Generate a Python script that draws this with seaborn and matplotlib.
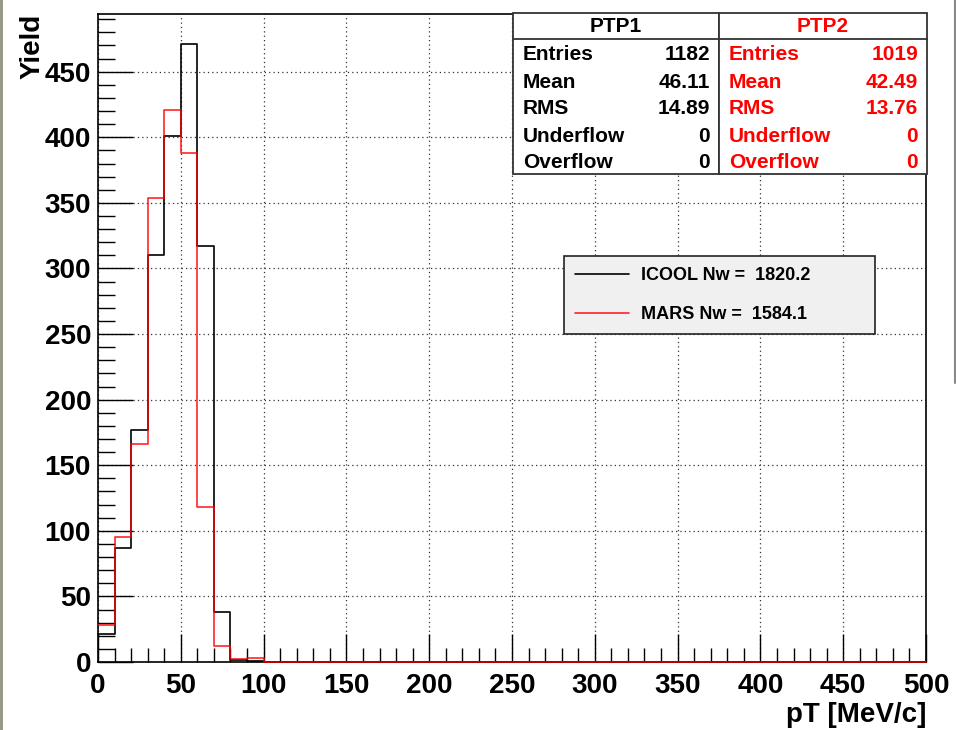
import numpy as np
import pandas as pd
import matplotlib
matplotlib.use("Agg")
import matplotlib.pyplot as plt
from matplotlib.patches import Rectangle
from matplotlib.lines import Line2D
from matplotlib.ticker import MultipleLocator
import seaborn as sns

# ---------------- data ----------------
bin_edges = [0, 10, 20, 30, 40, 50, 60, 70, 80, 90, 100, 110, 120, 130, 140, 150,
             160, 170, 180, 190, 200, 210, 220, 230, 240, 250, 260, 270, 280, 290,
             300, 310, 320, 330, 340, 350, 360, 370, 380, 390, 400, 410, 420, 430,
             440, 450, 460, 470, 480, 490, 500]
icool_yield = [21, 87, 177, 310, 401, 471, 317, 38, 1.5, 1,
               0, 0, 0, 0, 0, 0, 0, 0, 0, 0,
               0, 0, 0, 0, 0, 0, 0, 0, 0, 0,
               0, 0, 0, 0, 0, 0, 0, 0, 0, 0,
               0, 0, 0, 0, 0, 0, 0, 0, 0, 0]
mars_yield = [28, 95, 166, 354, 421, 388, 118, 12, 2, 3,
              0, 0, 0, 0, 0, 0, 0, 0, 0, 0,
              0, 0, 0, 0, 0, 0, 0, 0, 0, 0,
              0, 0, 0, 0, 0, 0, 0, 0, 0, 0,
              0, 0, 0, 0, 0, 0, 0, 0, 0, 0]
series_labels = ["ICOOL Nw =  1820.2", "MARS Nw =  1584.1"]
stat_names = ["Entries", "Mean", "RMS", "Underflow", "Overflow"]
ptp1_stats = ["1182", "46.11", "14.89", "0", "0"]
ptp2_stats = ["1019", "42.49", "13.76", "0", "0"]
box_titles = ["PTP1", "PTP2"]
x_ticks = [0, 50, 100, 150, 200, 250, 300, 350, 400, 450, 500]
y_ticks = [0, 50, 100, 150, 200, 250, 300, 350, 400, 450]

# ---------------- style ----------------
sns.set_theme(style="white")
plt.rcParams["font.family"] = ["Liberation Sans", "DejaVu Sans"]
plt.rcParams["font.weight"] = "bold"
plt.rcParams["text.color"] = "black"
plt.rcParams["axes.labelcolor"] = "black"
plt.rcParams["xtick.color"] = "black"
plt.rcParams["ytick.color"] = "black"

W, H = 956, 730
fig = plt.figure(figsize=(W / 100, H / 100), dpi=100)
fig.patch.set_facecolor("white")


def fx(x):
    return x / W


def fy(y):
    return 1 - y / H


ax = fig.add_axes([fx(98), fy(662), (926 - 98) / W, (662 - 14) / H])

centers = [(a + b) / 2 for a, b in zip(bin_edges[:-1], bin_edges[1:])]
df = pd.DataFrame({"pT": centers, "icool": icool_yield, "mars": mars_yield})

sns.histplot(data=df, x="pT", weights="icool", bins=bin_edges, element="step",
             fill=False, color="black", linewidth=1.2, ax=ax,
             label=series_labels[0], zorder=3, clip_on=False)
sns.histplot(data=df, x="pT", weights="mars", bins=bin_edges, element="step",
             fill=False, color="#ff0000", linewidth=1.2, alpha=0.85, ax=ax,
             label=series_labels[1], zorder=3, clip_on=False)

ax.set_xlim(0, 500)
ax.set_ylim(0, 494)
ax.set_xticks(x_ticks)
ax.set_yticks(y_ticks)
ax.xaxis.set_minor_locator(MultipleLocator(10))
ax.yaxis.set_minor_locator(MultipleLocator(10))
ax.tick_params(axis="both", which="both", direction="in", colors="black",
               labelsize=20, top=False, right=False, bottom=True, left=True)
ax.tick_params(axis="x", which="major", length=20, width=1, pad=8)
ax.tick_params(axis="x", which="minor", length=10, width=1)
ax.tick_params(axis="y", which="major", length=25, width=1, pad=5)
ax.tick_params(axis="y", which="minor", length=12, width=1)
for lab in ax.get_xticklabels() + ax.get_yticklabels():
    lab.set_fontweight("bold")

ax.grid(True, which="major", color="#333333", linestyle=(0, (1, 2.5)),
        linewidth=0.9)
for s in ax.spines.values():
    s.set_color("black")
    s.set_linewidth(1.2)

ax.set_xlabel("pT [MeV/c]", fontsize=20, fontweight="bold", loc="right",
              color="black")
ax.xaxis.set_label_coords(1.0, -0.0618)
ax.set_ylabel("Yield", fontsize=20, fontweight="bold", loc="top",
              color="black")
ax.yaxis.set_label_coords(-0.0636, 1.0)

# ---------------- legend ----------------
leg = ax.legend(loc="upper left",
                bbox_to_anchor=(fx(564), fy(256), (875 - 564) / W, 0),
                bbox_transform=fig.transFigure, mode="expand",
                borderaxespad=0, borderpad=0.6, labelspacing=1.25,
                handlelength=3.0, handletextpad=0.65, fancybox=False,
                frameon=True, prop={"size": 13, "weight": "bold"},
                labelcolor="black")
leg.get_frame().set_facecolor("#f0f0f0")
leg.get_frame().set_edgecolor("#222222")
leg.get_frame().set_linewidth(1.2)
leg.get_frame().set_alpha(1)

# ---------------- statistics boxes ----------------
box_x = [(513, 719), (719, 927)]
box_cols = ["black", "#ff0000"]
box_vals = [ptp1_stats, ptp2_stats]
y_top, y_head, y_bot = 13, 39, 174
for (x0, x1), col, title, vals in zip(box_x, box_cols, box_titles, box_vals):
    fig.add_artist(Rectangle((fx(x0), fy(y_bot)), (x1 - x0) / W,
                             (y_bot - y_top) / H, transform=fig.transFigure,
                             facecolor="white", edgecolor="#333333",
                             linewidth=1.3, zorder=5))
    fig.add_artist(Line2D([fx(x0), fx(x1)], [fy(y_head), fy(y_head)],
                          transform=fig.transFigure, color="#333333",
                          linewidth=1.3, zorder=6))
    fig.text(fx((x0 + x1) / 2), fy(26), title, color=col, fontsize=15,
             fontweight="bold", ha="center", va="center", zorder=7)
    for i, (name, v) in enumerate(zip(stat_names, vals)):
        yy = 55 + i * 27
        fig.text(fx(x0 + 10), fy(yy), name, color=col, fontsize=15,
                 fontweight="bold", ha="left", va="center", zorder=7)
        fig.text(fx(x1 - 9), fy(yy), v, color=col, fontsize=15,
                 fontweight="bold", ha="right", va="center", zorder=7)

# screenshot edge decorations
fig.add_artist(Rectangle((0, 0), 3 / W, 1, transform=fig.transFigure,
                         facecolor="#9a9a88", edgecolor="none", zorder=0))
fig.add_artist(Line2D([fx(954.5), fx(954.5)], [fy(0), fy(383)],
                      transform=fig.transFigure, color="#888888",
                      linewidth=1.5, zorder=0))

fig.savefig("out.png", dpi=100)
